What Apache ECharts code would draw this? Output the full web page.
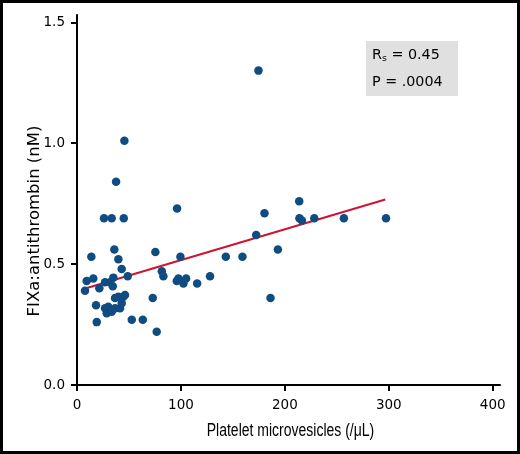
<!DOCTYPE html>
<html>
<head>
<meta charset="utf-8">
<script src="https://cdn.jsdelivr.net/npm/echarts@6.0.0/dist/echarts.min.js"></script>
<style>
  html, body { margin: 0; padding: 0; background: #fff; }
  #wrap { position: relative; width: 520px; height: 454px; }
  #chart { position: absolute; left: 0; top: 0; width: 520px; height: 454px; }
  #frame { position: absolute; left: 0; top: 0; width: 520px; height: 454px; box-sizing: border-box; border: 3px solid #000; pointer-events: none; }
</style>
</head>
<body>
<div id="wrap">
  <div id="chart"></div>
  <div id="frame"></div>
</div>
<script>
// Platelet microvesicles (/µL)
const pmvX = [174.6, 45.6, 37.6, 26, 33.4, 45, 96.3, 13.8, 35.9, 39.8, 43, 48.8, 75.4, 81.6, 83.1, 99.5,
  96, 97.6, 102.4, 105, 115.6, 128, 143.2, 159.2, 172.4, 180.4, 186.2, 193.3, 213.8, 214, 216.4, 228.3,
  256.8, 297.3, 7.7, 9.3, 15.7, 21.5, 27, 31.8, 35, 34.4, 18.3, 36.6, 39.8, 44.6, 46.2, 27, 30.1, 28.6,
  33.4, 36.6, 41.4, 43, 19, 52.7, 63.3, 72.9, 76.7];
// FIXa:antithrombin (nM)
const fixaY = [1.30, 1.01, 0.84, 0.69, 0.69, 0.69, 0.73, 0.53, 0.56, 0.52, 0.48, 0.45, 0.55, 0.47, 0.45, 0.53,
  0.43, 0.44, 0.42, 0.44, 0.42, 0.45, 0.53, 0.53, 0.62, 0.71, 0.36, 0.56, 0.76, 0.69, 0.68, 0.69,
  0.69, 0.69, 0.39, 0.43, 0.44, 0.40, 0.425, 0.425, 0.444, 0.408, 0.33, 0.36, 0.365, 0.365, 0.372, 0.317, 0.324, 0.297,
  0.303, 0.317, 0.317, 0.338, 0.26, 0.27, 0.27, 0.36, 0.22];
// regression line end points
const fitX = [8.7, 296.6];
const fitY = [0.400, 0.767];
// tick labels
const xTicks = [0, 100, 200, 300, 400];
const yTicks = [0, 0.5, 1.0, 1.5];
const xTitle = 'Platelet microvesicles (/\u03bcL)';
const yTitle = 'FIXa:antithrombin (nM)';
const statRs = '0.45';
const statP = '.0004';

const scatterData = pmvX.map((x, i) => [x, fixaY[i]]);
const fitData = fitX.map((x, i) => [x, fitY[i]]);

const chart = echarts.init(document.getElementById('chart'), null, { renderer: 'canvas' });
const axisCommon = {
  type: 'value',
  axisLine: { show: true, lineStyle: { color: '#000', width: 2 } },
  axisTick: { show: true, length: 6, lineStyle: { color: '#000', width: 2 } },
  splitLine: { show: false }
};
chart.setOption({
  animation: false,
  backgroundColor: '#fff',
  grid: { left: 77, top: 15, width: 423, height: 370, containLabel: false, outerBoundsMode: 'none' },
  xAxis: Object.assign({}, axisCommon, {
    min: 0, max: 407,
    axisTick: Object.assign({}, axisCommon.axisTick, { customValues: xTicks }),
    axisLabel: { customValues: xTicks, margin: 13, color: '#000', fontSize: 13.5, fontFamily: 'DejaVu Sans' }
  }),
  yAxis: Object.assign({}, axisCommon, {
    min: 0, max: 1.53,
    axisTick: Object.assign({}, axisCommon.axisTick, { customValues: yTicks }),
    axisLabel: { customValues: yTicks, margin: 12, color: '#000', fontSize: 13.5, fontFamily: 'DejaVu Sans',
      formatter: v => Number(v).toFixed(1) }
  }),
  series: [
    { type: 'line', data: fitData, symbol: 'none', z: 2,
      lineStyle: { color: '#cc1530', width: 2 }, silent: true },
    { type: 'scatter', data: scatterData, symbol: 'circle', symbolSize: 8.5, z: 3,
      itemStyle: { color: '#0f4c81', opacity: 1 } }
  ],
  graphic: [
    { type: 'text', x: 290.5, y: 431, z: 10, scaleX: 0.8,
      style: { text: xTitle, fill: '#000', font: '17.5px "Liberation Sans", sans-serif',
        align: 'center', verticalAlign: 'middle' } },
    { type: 'text', x: 34.7, y: 221, rotation: Math.PI / 2, z: 10,
      style: { text: yTitle, fill: '#000', font: '16.5px "DejaVu Sans", sans-serif',
        align: 'center', verticalAlign: 'middle' } },
    { type: 'rect', shape: { x: 366, y: 41, width: 92, height: 55 }, z: 5,
      style: { fill: '#e0e0e0' } },
    { type: 'text', x: 372, y: 55, z: 10,
      style: { text: '{n|R}{s|s}{n| = ' + statRs + '}', verticalAlign: 'middle', align: 'left',
        rich: {
          n: { fontSize: 14.3, fontFamily: 'DejaVu Sans', fill: '#000', color: '#000', lineHeight: 18, verticalAlign: 'middle' },
          s: { fontSize: 9.5, fontFamily: 'DejaVu Sans', fill: '#000', color: '#000', lineHeight: 9, verticalAlign: 'bottom' }
        } } },
    { type: 'text', x: 372, y: 82, z: 10,
      style: { text: 'P = ' + statP, fill: '#000', font: '14.3px "DejaVu Sans", sans-serif',
        align: 'left', verticalAlign: 'middle' } }
  ]
});
</script>
</body>
</html>
